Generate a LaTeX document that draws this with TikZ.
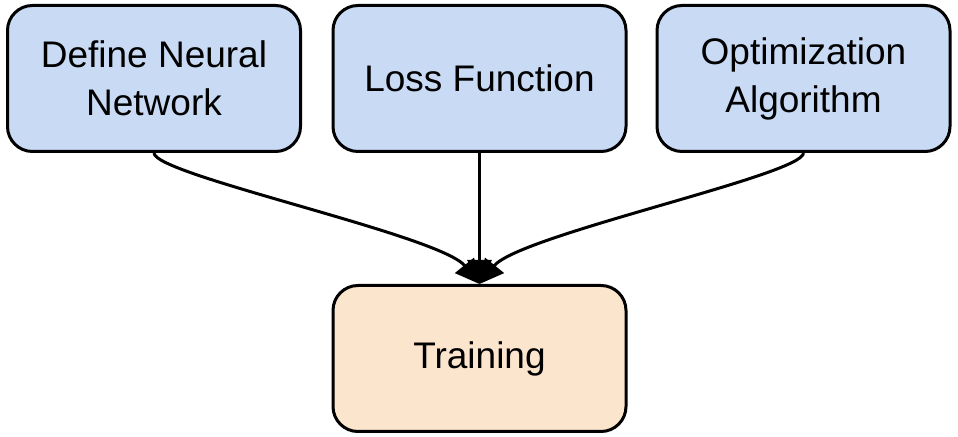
\documentclass[tikz,border=0pt]{standalone}
\usepackage{fontspec}
\setmainfont{Liberation Sans}
\usetikzlibrary{arrows.meta,positioning}

\begin{document}
\begin{tikzpicture}[x=0.5pt, y=-0.5pt, line width=1.5pt,
  box/.style={rectangle, rounded corners=12.5pt, draw=black, line width=1.5pt,
    minimum width=146.5pt, minimum height=73pt, align=center,
    font=\fontsize{18.5}{24}\selectfont},
  link/.style={-{Triangle[length=12pt,width=12pt]}, line width=1.5pt}]
\useasboundingbox (0,0) rectangle (958,437);

\foreach \pos/\name/\disp in {{(154,78.5)/define/Define Neural\\Network}, {(479.5,78.5)/loss/Loss Function}, {(803.5,78.5)/optim/Optimization\\Algorithm}}
\node[box, fill={rgb,255:red,201;green,218;blue,245}] (\name) at \pos {\disp};

\node[box, fill={rgb,255:red,252;green,229;blue,205}] (train) at (479.5,358.5) {Training};

% Connect the three parts to training
\draw[link] (define.south) .. controls (154,175) and (440,235) .. (train.north);
\draw[link] (loss.south) -- (train.north);
\draw[link] (optim.south) .. controls (803.5,175) and (519,235) .. (train.north);

\end{tikzpicture}
\end{document}
